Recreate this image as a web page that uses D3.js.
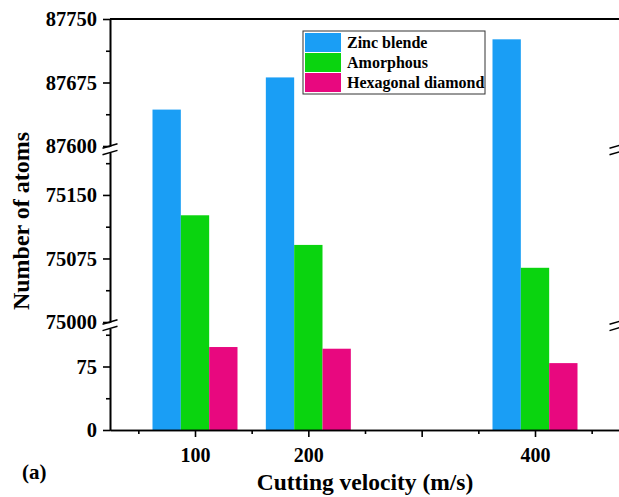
<!DOCTYPE html>
<html>
<head>
<meta charset="utf-8">
<script src="https://cdn.jsdelivr.net/npm/d3@7"></script>
<style>
  body { margin: 0; background: #fff; }
  text { font-family: "Liberation Serif", "Times New Roman", serif; font-weight: bold; }
</style>
</head>
<body>
<script>
// data
var velocities = [100, 200, 400];
var seriesNames = ["Zinc blende", "Amorphous", "Hexagonal diamond"];
var zincBlende = [87643, 87681, 87726];
var amorphous = [75126, 75091, 75064];
var hexDiamond = [98, 96, 79];
var colors = ["#1a9ef5", "#0ad40f", "#e8087f"];

var width = 619, height = 497;
var left = 110, right = 620, bottom = 430;

var svg = d3.select("body").append("svg")
    .attr("width", width)
    .attr("height", height);

// x is a plain linear scale in m/s
var x = d3.scaleLinear().domain([25, 475]).range([left, right]);
var barW = 25;

// broken y axis: three pieces with the same px per atom
var segments = [
    {domain: [0, 120], range: [bottom, 328.4], major: [0, 75], minor: [37.5, 112.5]},
    {domain: [75000, 75200], range: [322, 152.6], major: [75000, 75075, 75150], minor: [75037.5, 75112.5, 75187.5]},
    {domain: [87600, 87750], range: [146, 19], major: [87600, 87675, 87750], minor: [87637.5, 87712.5]}
];
segments.forEach(function(s){
    s.scale = d3.scaleLinear().domain(s.domain).range(s.range);
});

function y(v){
    for(var i = segments.length - 1; i >= 0; i--){
	if(v >= segments[i].domain[0]) return segments[i].scale(v);
    }
    return segments[0].scale(v);
}

// bars
var series = [zincBlende, amorphous, hexDiamond];
series.forEach(function(vals, si){
    svg.append("g").selectAll("rect")
	.data(vals)
	.enter()
	.append("rect")
	.attr("x", function(d, i){ return x(velocities[i] + (si - 1.5) * barW); })
	.attr("width", x(barW) - x(0))
	.attr("y", function(d){ return y(d); })
	.attr("height", function(d){ return bottom - y(d); })
	.attr("fill", colors[si]);
});

// left axis pieces
segments.forEach(function(s){
    var g = svg.append("g").attr("transform", "translate(" + left + ",0)");
    g.call(d3.axisLeft(s.scale).tickValues(s.major).tickSize(7).tickSizeOuter(0).tickPadding(6)
	   .tickFormat(d3.format("d")));
    g.append("g").call(d3.axisLeft(s.scale).tickValues(s.minor).tickSize(4).tickSizeOuter(0).tickFormat(""));
    g.selectAll("path, line").attr("stroke", "#000").attr("stroke-width", 1.6);
    g.selectAll("text").attr("font-size", 20.5).attr("fill", "#000")
	.style("font-family", "Liberation Serif").style("font-weight", "bold");

    // right side line
    svg.append("line")
	.attr("x1", right).attr("x2", right)
	.attr("y1", s.range[0]).attr("y2", s.range[1])
	.attr("stroke", "#000").attr("stroke-width", 1.6);
});

// top frame
svg.append("line")
    .attr("x1", left).attr("x2", right)
    .attr("y1", 19).attr("y2", 19)
    .attr("stroke", "#000").attr("stroke-width", 1.8);

// break marks
function breakMark(cx, y1, y2){
    [y1, y2].forEach(function(yy){
	svg.append("line")
	    .attr("x1", cx - 7.5).attr("y1", yy + 2.2)
	    .attr("x2", cx + 7.5).attr("y2", yy - 2.2)
	    .attr("stroke", "#000").attr("stroke-width", 1.5);
    });
}
[[146, 152.6], [322, 328.4]].forEach(function(b){
    breakMark(left, b[0], b[1]);
    breakMark(right - 3, b[0], b[1]);
});

// x axis
var gx = svg.append("g").attr("transform", "translate(0," + bottom + ")");
gx.call(d3.axisBottom(x).tickValues([100, 200, 300, 400]).tickSize(7).tickSizeOuter(0).tickPadding(11)
	.tickFormat(function(d){ return velocities.indexOf(d) >= 0 ? d : ""; }));
gx.append("g").call(d3.axisBottom(x).tickValues([50, 150, 250, 350, 450]).tickSize(4).tickSizeOuter(0).tickFormat(""));
gx.selectAll("path, line").attr("stroke", "#000").attr("stroke-width", 1.6);
gx.selectAll("text").attr("font-size", 20).attr("fill", "#000")
    .style("font-family", "Liberation Serif").style("font-weight", "bold");

// titles
svg.append("text")
    .attr("x", 365).attr("y", 490)
    .attr("text-anchor", "middle")
    .attr("font-size", 23.5)
    .text("Cutting velocity (m/s)");

svg.append("text")
    .attr("transform", "translate(29,221) rotate(-90)")
    .attr("text-anchor", "middle")
    .attr("font-size", 24)
    .text("Number of atoms");

svg.append("text")
    .attr("x", 22).attr("y", 479)
    .attr("font-size", 21)
    .text("(a)");

// legend
var legend = svg.append("g").attr("transform", "translate(303,31)");
legend.append("rect")
    .attr("width", 182).attr("height", 63)
    .attr("fill", "#fff").attr("stroke", "#333").attr("stroke-width", 1);
var rows = legend.selectAll("g.row")
    .data(seriesNames)
    .enter()
    .append("g")
    .attr("transform", function(d, i){ return "translate(2," + (2 + i * 20) + ")"; });
rows.append("rect")
    .attr("width", 36).attr("height", 19)
    .attr("fill", function(d, i){ return colors[i]; });
rows.append("text")
    .attr("x", 42).attr("y", 15)
    .attr("font-size", 16)
    .text(function(d){ return d; });
</script>
</body>
</html>
